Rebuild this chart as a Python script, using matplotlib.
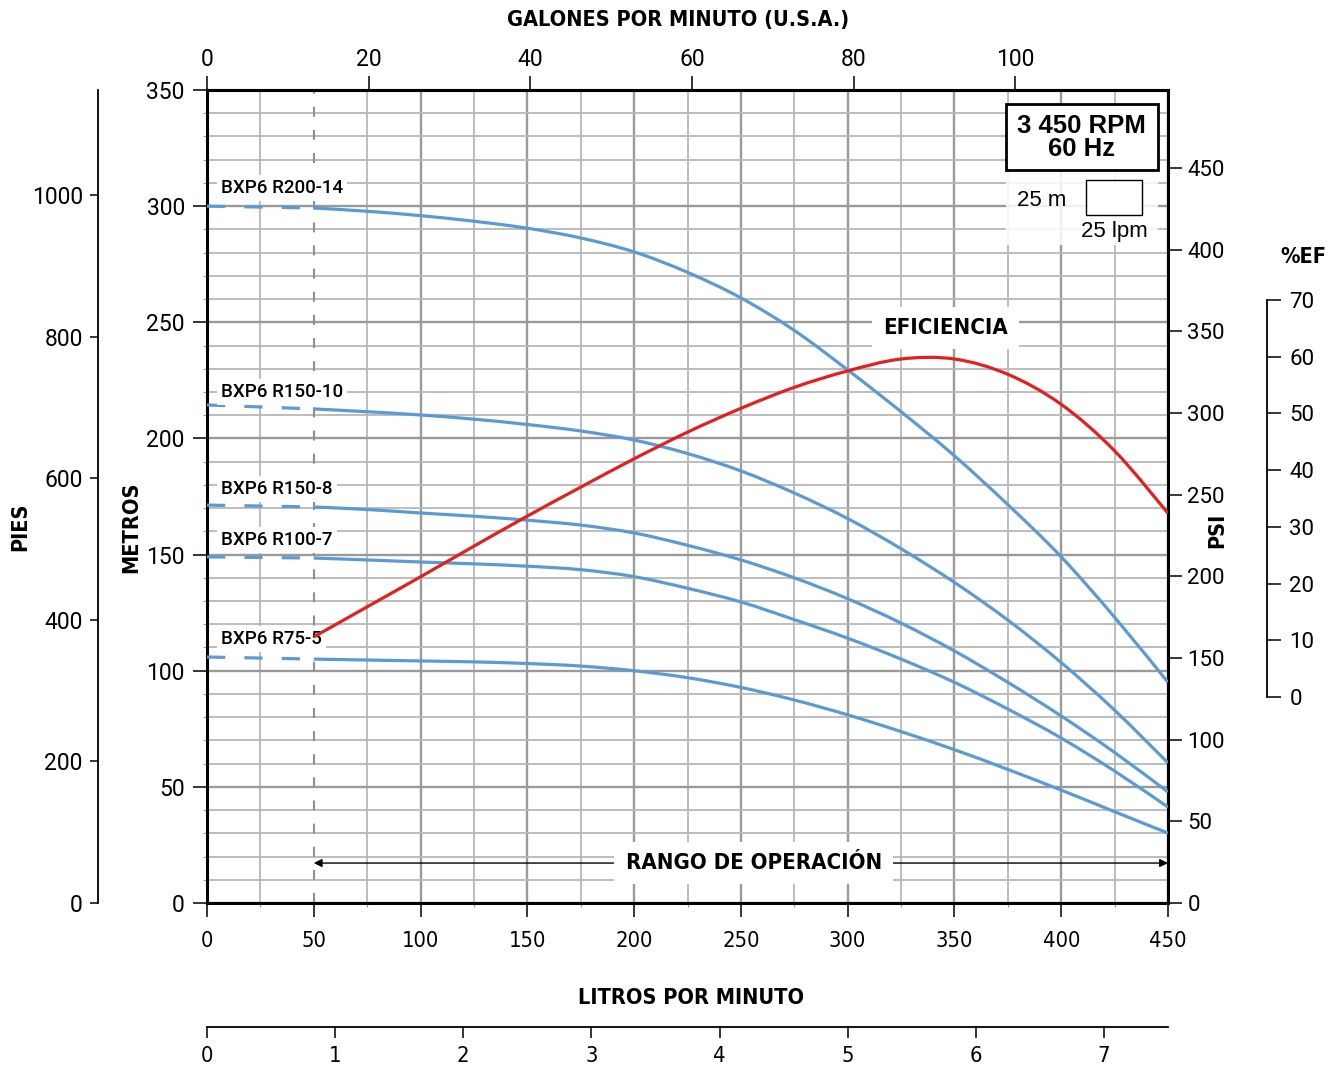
import os
import matplotlib
matplotlib.use("Agg")
import matplotlib.pyplot as plt
import matplotlib.font_manager as fm
from matplotlib.font_manager import FontProperties
from matplotlib.ticker import MultipleLocator, FixedLocator
from matplotlib.patches import Rectangle, PathPatch
from matplotlib.path import Path
import numpy as np

# ---------------- data ----------------
lpm = [0, 50, 75, 100, 125, 150, 175, 200, 225, 250, 275, 300, 325, 350, 375, 400, 425, 450]
h_r200_14 = [300, 299.2, 297.8, 295.9, 293.5, 290.5, 286.3, 280.3, 271.5, 260.5, 246.5, 229.5, 211.5, 192.5, 171.5, 149, 123, 95]
h_r150_10 = [214.4, 212.7, 211.5, 210.1, 208.3, 206, 203.2, 199.3, 193.5, 186, 176.5, 165.5, 152.5, 138, 121.8, 103.5, 83, 60.3]
h_r150_8 = [171.3, 170.5, 169.4, 167.9, 166.5, 164.8, 162.7, 159.3, 154, 147.7, 140, 131, 120.5, 108.5, 95, 80.5, 64.8, 47.8]
h_r100_7 = [149, 148.5, 147.7, 146.8, 146, 145, 143.5, 140.5, 135.5, 129.6, 122, 114, 105, 95, 83.5, 71, 56.8, 41.3]
h_r75_5 = [105.9, 105, 104.6, 104.2, 103.8, 103.1, 102, 100, 97, 92.8, 87.4, 81, 73.8, 66, 57.5, 48.6, 39.3, 30.1]
curve_names = ["BXP6 R200-14", "BXP6 R150-10", "BXP6 R150-8", "BXP6 R100-7", "BXP6 R75-5"]
curve_heads = [h_r200_14, h_r150_10, h_r150_8, h_r100_7, h_r75_5]
label_pos_m = [307.8, 220, 178.2, 156.3, 113.6]

eff_lpm = [50, 75, 100, 125, 150, 175, 200, 225, 250, 275, 300, 325, 350, 375, 400, 425, 450]
eff_pct = [10.6, 15.9, 21.2, 26.6, 31.9, 37.0, 42.0, 46.7, 50.9, 54.6, 57.5, 59.6, 59.6, 56.9, 51.6, 43.4, 32.4]

metros_ticks = [0, 50, 100, 150, 200, 250, 300, 350]
lpm_ticks = [0, 50, 100, 150, 200, 250, 300, 350, 400, 450]
gpm_ticks = [0, 20, 40, 60, 80, 100]
psi_ticks = [0, 50, 100, 150, 200, 250, 300, 350, 400, 450]
pies_ticks = [0, 200, 400, 600, 800, 1000]
lps_ticks = [0, 1, 2, 3, 4, 5, 6, 7]
ef_ticks = [0, 10, 20, 30, 40, 50, 60, 70]

# ---------------- fonts ----------------
def find_file(names):
    names = [n.lower() for n in names]
    for f in fm.fontManager.ttflist:
        if os.path.basename(f.fname).lower() in names:
            return f.fname
    return None

bold_narrow = find_file(["LiberationSansNarrow-Bold.ttf", "RobotoCondensed-Bold.ttf",
                         "DejaVuSansCondensed-Bold.ttf"])
reg_narrow = find_file(["LiberationSansNarrow-Regular.ttf", "RobotoCondensed-Regular.ttf",
                        "DejaVuSansCondensed.ttf"])

def title_fp(size_narrow=17.5):
    if bold_narrow and "DejaVu" not in bold_narrow:
        return FontProperties(fname=bold_narrow, size=size_narrow)
    if bold_narrow:
        return FontProperties(fname=bold_narrow, size=size_narrow * 0.84)
    return FontProperties(family=["Liberation Sans", "DejaVu Sans"], weight="bold", size=size_narrow * 0.82)

def tick_fp(size_narrow=17):
    if reg_narrow and "DejaVu" not in reg_narrow:
        return FontProperties(fname=reg_narrow, size=size_narrow)
    if reg_narrow:
        return FontProperties(fname=reg_narrow, size=size_narrow * 0.9)
    return FontProperties(family=["Liberation Sans", "DejaVu Sans"], size=size_narrow * 0.88)

# ---------------- style ----------------
W, H = 1337, 1074
BLUE = "#5b9bd5"
RED = "#e3201e"
REG = ["Roboto", "DejaVu Sans"]
ARIAL = ["Liberation Sans", "DejaVu Sans"]
plt.rcParams["font.family"] = REG

fig = plt.figure(figsize=(W / 100, H / 100), dpi=100)

def fx(px):
    return px / W

def fy(py):
    return 1 - py / H

def smooth_patch(xs, ys, color, lw, z, axes):
    pts = np.column_stack([xs, ys]).astype(float)
    n = len(pts)
    verts = [pts[0]]
    codes = [Path.MOVETO]
    for i in range(n - 1):
        p0 = pts[i - 1] if i > 0 else pts[i]
        p1 = pts[i]
        p2 = pts[i + 1]
        p3 = pts[i + 2] if i + 2 < n else pts[i + 1]
        c1 = p1 + (p2 - p0) / 6.0
        c2 = p2 - (p3 - p1) / 6.0
        verts += [c1, c2, p2]
        codes += [Path.CURVE4] * 3
    patch = PathPatch(Path(verts, codes), facecolor="none", edgecolor=color, lw=lw,
                      zorder=z, capstyle="butt", joinstyle="round")
    axes.add_patch(patch)

ax = fig.add_axes([fx(207), fy(903), 961 / W, 813 / H])
ax.set_xlim(0, 450)
ax.set_ylim(0, 350)

ax.xaxis.set_major_locator(FixedLocator(lpm_ticks))
ax.xaxis.set_minor_locator(MultipleLocator(25))
ax.yaxis.set_major_locator(FixedLocator(metros_ticks))
ax.yaxis.set_minor_locator(MultipleLocator(10))
ax.grid(which="major", color="#9a9a9a", lw=1.7, zorder=0)
ax.grid(which="minor", color="#b8b8b8", lw=1.3, zorder=0)
ax.set_axisbelow(True)
for s in ax.spines.values():
    s.set_linewidth(2.2)
    s.set_color("black")
ax.tick_params(which="major", direction="out", length=10, width=1.1, labelsize=16.5)
ax.tick_params(which="minor", direction="out", length=3, width=0.8, color="#999999")
ax.tick_params(axis="y", pad=6)
ax.tick_params(axis="x", pad=10)
fp_tick = tick_fp(17.5)
for lab in ax.get_xticklabels():
    lab.set_fontproperties(fp_tick)
# no solid grid line at 50 LPM: the dashed limit line replaces it
ax.get_xgridlines()[1].set_visible(False)

# dashed operating-range limit line
ax.axvline(50, color="#8f8f8f", lw=1.5, ls=(0, (4.8, 6.3)), zorder=1)

# pump curves
for name, heads, ly in zip(curve_names, curve_heads, label_pos_m):
    ax.plot(lpm[:2], heads[:2], color=BLUE, lw=2.3, ls=(0, (5.7, 6)), zorder=3)
    smooth_patch(lpm[1:], heads[1:], BLUE, 2.3, 3, ax)
    ax.text(6.6, ly, name, fontsize=13.5, fontweight="medium", ha="left", va="center",
            zorder=4, bbox=dict(facecolor="white", edgecolor="none", pad=3))

# efficiency curve on hidden twin axis
ax_e = ax.twinx()
ax_e.set_xlim(0, 450)
ax_e.set_ylim((697 - 903) / 5.671, (697 - 90) / 5.671)
smooth_patch(eff_lpm, eff_pct, RED, 2.3, 5, ax_e)
ax_e.axis("off")

# secondary axes
gpm_axis = ax.secondary_xaxis("top", functions=(lambda x: x / 3.78541, lambda g: g * 3.78541))
gpm_axis.xaxis.set_major_locator(FixedLocator(gpm_ticks))
gpm_axis.tick_params(direction="out", length=10, width=1.1, labelsize=16.5, pad=4)
gpm_axis.spines["top"].set_linewidth(2.2)

psi_axis = ax.secondary_yaxis("right", functions=(lambda m: m * 1.4219, lambda p: p / 1.4219))
psi_axis.yaxis.set_major_locator(FixedLocator(psi_ticks))
psi_axis.tick_params(direction="out", length=10, width=1.1, labelsize=16, pad=4)

pies_axis = ax.secondary_yaxis((98 - 207) / 961, functions=(lambda m: m * 3.28084, lambda f: f / 3.28084))
pies_axis.yaxis.set_major_locator(FixedLocator(pies_ticks))
pies_axis.tick_params(direction="out", length=6, width=1.1, labelsize=16.5, pad=5)
pies_axis.spines["left"].set_linewidth(1.3)

lps_axis = ax.secondary_xaxis((903 - 1027) / 813, functions=(lambda q: q / 60, lambda s: s * 60))
lps_axis.xaxis.set_major_locator(FixedLocator(lps_ticks))
lps_axis.tick_params(direction="out", length=8, width=1.1, pad=6)
lps_axis.spines["bottom"].set_linewidth(1.3)
for lab in lps_axis.get_xticklabels():
    lab.set_fontproperties(fp_tick)

# %EF axis
ax_ef = fig.add_axes([fx(1267), fy(697), 0.0001, 397 / H])
ax_ef.set_ylim(0, 70)
ax_ef.set_xticks([])
for k in ["top", "bottom", "right"]:
    ax_ef.spines[k].set_visible(False)
ax_ef.spines["left"].set_linewidth(1.3)
ax_ef.yaxis.set_major_locator(FixedLocator(ef_ticks))
ax_ef.tick_params(axis="y", direction="in", length=10, width=1.1, labelsize=16,
                  left=True, labelleft=False, right=False, labelright=True, pad=16)
ax_ef.patch.set_visible(False)

# axis titles
fp_t = title_fp(18.5)
fig.text(fx(678), fy(20), "GALONES POR MINUTO (U.S.A.)", ha="center", va="center", fontproperties=fp_t)
fig.text(fx(691), fy(998), "LITROS POR MINUTO", ha="center", va="center", fontproperties=fp_t)
fig.text(fx(20), fy(527), "PIES", ha="center", va="center", rotation=90, fontproperties=fp_t)
fig.text(fx(131), fy(527), "METROS", ha="center", va="center", rotation=90, fontproperties=fp_t)
fig.text(fx(1217), fy(530), "PSI", ha="center", va="center", rotation=90, fontproperties=fp_t)
fig.text(fx(1303), fy(257), "%EF", ha="center", va="center", fontproperties=fp_t)

# annotations inside plot
ax.annotate("", xy=(50, 17.2), xytext=(450, 17.2),
            arrowprops=dict(arrowstyle="<|-|>", lw=1.0, color="black", mutation_scale=12,
                            shrinkA=0, shrinkB=0), zorder=4)
fp_big = title_fp(19)
ax.text(256, 17.2, "RANGO DE OPERACIÓN", ha="center", va="center", zorder=5,
        fontproperties=fp_big, bbox=dict(facecolor="white", edgecolor="none", pad=8))
ax.text(345.6, 247.5, "EFICIENCIA", ha="center", va="center", zorder=5,
        fontproperties=fp_big, bbox=dict(facecolor="white", edgecolor="none", pad=8))

# RPM box
ax.add_patch(Rectangle((374.1, 283.3), 445.3 - 374.1, 314.7 - 283.3, facecolor="white",
                       edgecolor="none", alpha=0.85, zorder=4))
ax.add_patch(Rectangle((374.1, 315.5), 445.3 - 374.1, 343.9 - 315.5, facecolor="white",
                       edgecolor="black", lw=2.0, zorder=5))
ax.text(409.5, 329.7, "3 450 RPM\n60 Hz", ha="center", va="center", zorder=6,
        family=ARIAL, fontweight="bold", fontsize=18.5, linespacing=0.95)
ax.add_patch(Rectangle((411.6, 296.2), 26.2, 15.0, facecolor="white", edgecolor="black",
                       lw=1.0, zorder=6))
ax.text(391, 302.6, "25 m", ha="center", va="center", zorder=6, family=ARIAL, fontsize=16)
ax.text(424.7, 288.9, "25 lpm", ha="center", va="center", zorder=6, family=ARIAL, fontsize=16)

fig.savefig("out.png", dpi=100)
